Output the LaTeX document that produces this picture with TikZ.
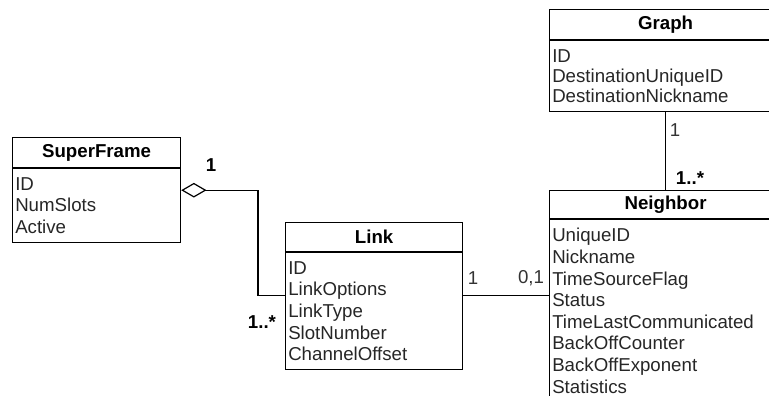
\documentclass[tikz,border=0pt]{standalone}
\usepackage{fontspec}
\setmainfont{Liberation Sans}
\usetikzlibrary{arrows.meta,positioning,calc}

\begin{document}
\begin{tikzpicture}[x=0.75pt, y=-0.75pt, line width=0.9pt,
    every node/.style={font=\fontsize{14}{16.2}\selectfont},
    classtitle/.style={draw, anchor=north west, inner sep=0pt, minimum height=#1,
        font=\fontsize{14}{16.2}\selectfont\bfseries},
    classattrs/.style={draw, anchor=north west, align=left, text width=#1,
        inner xsep=2pt, inner ysep=6.5pt, text=black!85},
    mult/.style={inner sep=0pt, text=black!80},
    agg/.style={{Diamond[open,length=19pt,width=11pt]}-}]
    % Frame of the picture
    \clip (0,0) rectangle (769,396);

    % SuperFrame class
    \node[classtitle=22.5pt, minimum width=126pt] (sfT) at (12,137) {SuperFrame};
    \node[classattrs=122pt] (sfA) at (sfT.south west) {ID\\NumSlots\\Active};

    % Link class
    \node[classtitle=21.75pt, minimum width=132.75pt] (lkT) at (285,222) {Link};
    \node[classattrs=128.75pt] (lkA) at (lkT.south west)
        {ID\\LinkOptions\\LinkType\\SlotNumber\\ChannelOffset};

    % Graph class (runs past the right edge)
    \node[classtitle=22.5pt, minimum width=174pt] (grT) at (549,9) {Graph};
    \node[classattrs=170pt, font=\fontsize{14}{15}\selectfont] (grA) at (grT.south west)
        {ID\\DestinationUniqueID\\DestinationNickname};

    % Neighbor class (runs past the right and bottom edges)
    \node[classtitle=21pt, minimum width=174pt] (nbT) at (549,190) {Neighbor};
    \node[classattrs=170pt] (nbA) at (nbT.south west)
        {UniqueID\\Nickname\\TimeSourceFlag\\Status\\TimeLastCommunicated\\BackOffCounter\\BackOffExponent\\Statistics};

    % Join points
    \coordinate (sfjoin) at ([yshift=-16.5pt]sfA.north east);
    \coordinate (lkjoin) at ([yshift=-32.25pt]lkA.north west);
    \coordinate (bend) at ([xshift=-20.25pt]lkjoin);
    \coordinate (lkout) at (lkA.east |- lkjoin);
    \coordinate (nbjoin) at (nbA.west |- lkjoin);

    % Associations
    \draw[agg] (sfjoin) -| (bend) -- (lkjoin);
    \draw (lkout) -- (nbjoin);
    \draw (grA.south) -- (nbT.north);

    % Multiplicities
    \node[mult, text=black, font=\fontsize{14}{16.2}\selectfont\bfseries] (mSf) at (211,165) {1};
    \node[mult, text=black, font=\fontsize{14}{16.2}\selectfont\bfseries] (mLkA) at (262,322) {1..*};
    \node[mult] (mLkB) at (473,278) {1};
    \node[mult] (mNbA) at (531,278) {0,1};
    \node[mult] (mGr) at (675,130) {1};
    \node[mult, text=black, font=\fontsize{14}{16.2}\selectfont\bfseries] (mNbB) at (690,178) {1..*};
\end{tikzpicture}
\end{document}
